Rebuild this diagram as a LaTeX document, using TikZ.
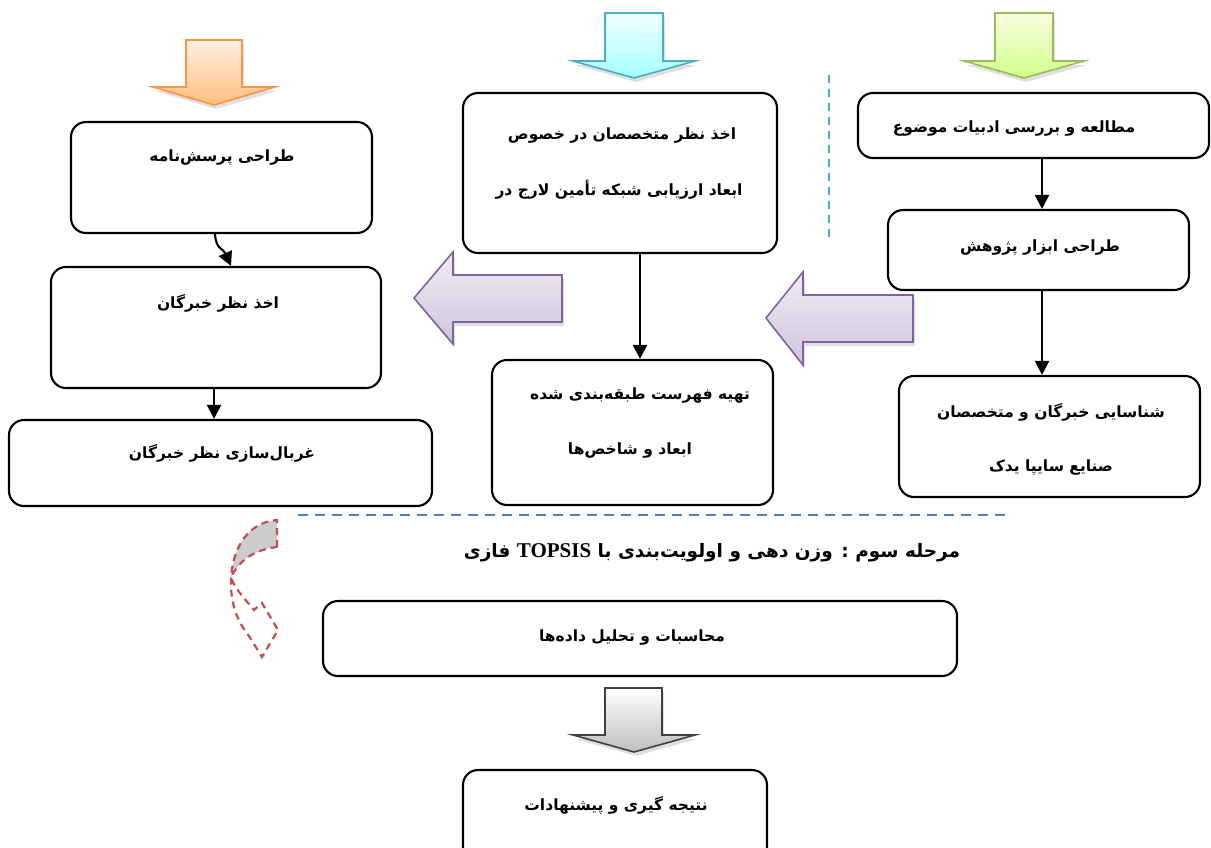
\documentclass[tikz,border=0pt]{standalone}
\usepackage{fontspec}
\setmainfont{Liberation Serif}
\newfontfamily\arabicfont[Script=Arabic]{DejaVu Sans}
\TeXXeTstate=1
\usetikzlibrary{arrows.meta,shadows,calc}
\newcommand{\fa}[1]{{\arabicfont\bfseries\beginR #1\endR}}
\definecolor{orline}{HTML}{F79646}
\definecolor{bluline}{HTML}{4BACC6}
\definecolor{grnline}{HTML}{9BBB59}
\definecolor{purline}{HTML}{8064A2}
\definecolor{dashblue}{HTML}{4F81BD}
\definecolor{dashred}{HTML}{C0504D}
\tikzset{
  box/.style={draw, rounded corners=15, line width=2.1, inner sep=0pt},
  txt/.style={font=\fontsize{15.5}{18}\selectfont, inner sep=0pt},
  conn/.style={line width=2.1, -{Triangle[length=14pt,width=14pt]}},
  blockarrow/.style={line width=1.6, line join=miter, shading=axis, shading angle=0,
     drop shadow={opacity=0.25, shadow xshift=2pt, shadow yshift=-4pt}},
}
\begin{document}
\begin{tikzpicture}[x=1pt,y=-1pt]
\clip (0,0) rectangle (1211,847);
\fill[white] (0,0) rectangle (1211,847);

% block arrows
\path[blockarrow, draw=orline, top color=orange!12, bottom color=orange!50]
  (186,40) -- (242,40) -- (242,87) -- (275,87) -- (214,105) -- (153,87) -- (186,87) -- cycle;
\path[blockarrow, draw=bluline, top color=cyan!6, bottom color=cyan!35]
  (605,13) -- (663,13) -- (663,61) -- (695,61) -- (634,78) -- (573,61) -- (605,61) -- cycle;
\path[blockarrow, draw=grnline, top color=green!20!yellow!12, bottom color=green!40!yellow!45]
  (995,13) -- (1053,13) -- (1053,61) -- (1084,61) -- (1024,78) -- (964,61) -- (995,61) -- cycle;
\path[blockarrow, draw=purline, top color=purline!12, bottom color=purline!38]
  (414,298) -- (453,252) -- (453,275) -- (562,275) -- (562,322) -- (453,322) -- (453,344) -- cycle;
\path[blockarrow, draw=purline, top color=purline!12, bottom color=purline!38]
  (766,318) -- (803,272) -- (803,295) -- (913,295) -- (913,342) -- (803,342) -- (803,365) -- cycle;
\path[blockarrow, draw=black!75, top color=white, bottom color=black!25]
  (605,688) -- (662,688) -- (662,735) -- (695,735) -- (634,752) -- (573,735) -- (605,735) -- cycle;

% dashed separators
\draw[bluline, line width=2.2, dash pattern=on 8pt off 6pt] (829,75) -- (829,240);
\draw[dashblue, line width=2.2, dash pattern=on 10pt off 7pt] (298,515) -- (1005,515);

% red dashed curved arrow
\path[fill=black!20] (277,520) .. controls (250,522) and (233,545) .. (231,578)
   .. controls (236,565) and (250,550) .. (277,547) -- cycle;
\draw[dashred, line width=2.2, dash pattern=on 7pt off 5pt]
  (277,547) -- (277,520) .. controls (250,522) and (233,545) .. (231,578)
  .. controls (230,605) and (238,622) .. (249,636) -- (262,657) -- (278,630)
  -- (262,603) -- (254,610) .. controls (244,598) and (236,590) .. (231,578)
  .. controls (236,565) and (250,550) .. (277,547);

% boxes
\node[box, minimum width=351, minimum height=65] (b1) at (1033.5,125.5) {};
\node[box, minimum width=301, minimum height=80] (b2) at (1038.5,250) {};
\node[box, minimum width=301, minimum height=121] (b3) at (1049.5,436.5) {};
\node[box, minimum width=314, minimum height=160] (m1) at (620,173) {};
\node[box, minimum width=281, minimum height=145] (m2) at (632.5,432.5) {};
\node[box, minimum width=301, minimum height=111] (l1) at (221.5,177.5) {};
\node[box, minimum width=330, minimum height=121] (l2) at (216,327.5) {};
\node[box, minimum width=423, minimum height=86] (l3) at (220.5,463) {};
\node[box, minimum width=634, minimum height=75] (c1) at (640,638.5) {};
\node[box, minimum width=304, minimum height=110] (c2) at (615,825) {};

% texts
\node[txt] (tb1) at (1014,128) {\fa{مطالعه و بررسی ادبیات موضوع}};
\node[txt] (tb2) at (1040,247) {\fa{طراحی ابزار پژوهش}};
\node[txt] (tb3a) at (1051,412) {\fa{شناسایی خبرگان و متخصصان}};
\node[txt] (tb3b) at (1051,467) {\fa{صنایع سایپا یدک}};
\node[txt] (tm1a) at (622,135) {\fa{اخذ نظر متخصصان در خصوص}};
\node[txt] (tm1b) at (619,190) {\fa{ابعاد ارزیابی شبکه تأمین لارج در}};
\node[txt] (tm2a) at (640,395) {\fa{تهیه فهرست طبقه‌بندی شده}};
\node[txt] (tm2b) at (630,450) {\fa{ابعاد و شاخص‌ها}};
\node[txt] (tl1) at (222,157) {\fa{طراحی پرسش‌نامه}};
\node[txt] (tl2) at (218,303) {\fa{اخذ نظر خبرگان}};
\node[txt] (tl3) at (222,453) {\fa{غربال‌سازی نظر خبرگان}};
\node[txt, font=\fontsize{18.5}{20}\selectfont] (title) at (712,553) {\fa{مرحله سوم : وزن دهی و اولویت‌بندی با \beginL{\rmfamily\fontsize{21}{22}\selectfont\bfseries TOPSIS}\endL{} فازی}};
\node[txt] (tc1) at (632,637) {\fa{محاسبات و  تحلیل داده‌ها}};
\node[txt] (tc2) at (616,805) {\fa{نتیجه گیری و پیشنهادات}};

% connectors
\coordinate (ax) at (1042,0);
\coordinate (mx) at (640,0);
\coordinate (lx) at (214,0);
\draw[conn] (b1.south -| ax) -- (b2.north -| ax);
\draw[conn] (b2.south -| ax) -- (b3.north -| ax);
\draw[conn] (m1.south -| mx) -- (m2.north -| mx);
\coordinate (lxa) at (215,0);
\coordinate (lxb) at (231,0);
\draw[conn] (l1.south -| lxa) .. controls ($(l1.south -| lxa)+(1,16)$) and ($(l2.north -| lxb)+(-8,-18)$) .. (l2.north -| lxb);
\draw[conn] (l2.south -| lx) -- (l3.north -| lx);
\end{tikzpicture}
\end{document}
